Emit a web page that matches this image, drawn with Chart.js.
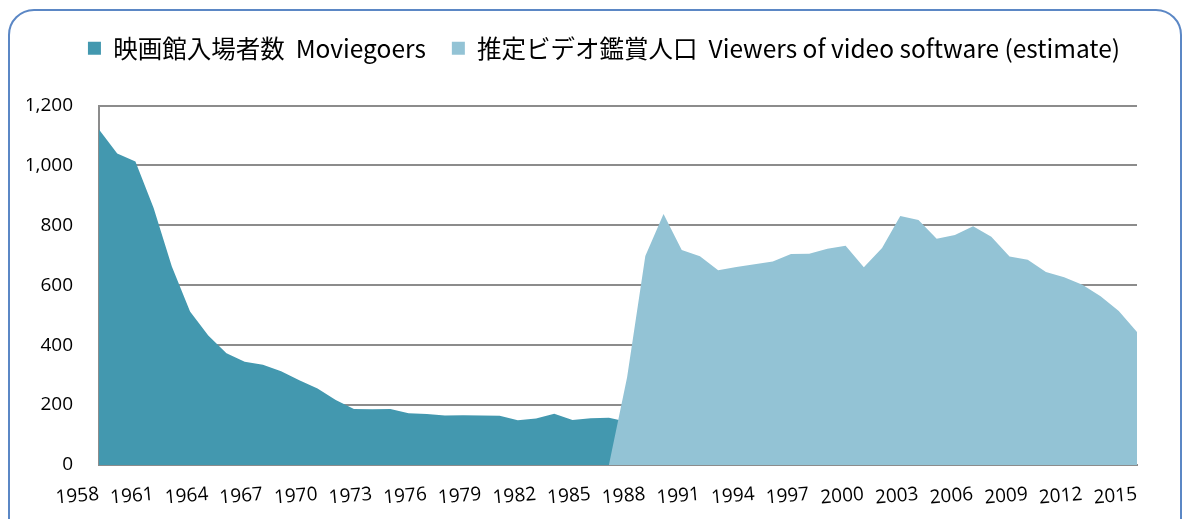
<!DOCTYPE html>
<html>
<head>
<meta charset="utf-8">
<script src="https://cdn.jsdelivr.net/npm/chart.js@4.4.0/dist/chart.umd.min.js"></script>
<style>
  body { margin: 0; background: #fff; }
  #frame { position: absolute; left: 8px; top: 9px; width: 1174px; height: 540px; border: 2px solid #5b87c5; border-radius: 26px; box-sizing: border-box; }
  #wrap { position: absolute; left: 0; top: 0; width: 1189px; height: 519px; }
</style>
</head>
<body>
<div id="frame"></div>
<div id="wrap"><canvas id="chart" width="1189" height="519"></canvas></div>
<script>
// years on the x axis
var years = [1958, 1959, 1960, 1961, 1962, 1963, 1964, 1965, 1966, 1967,
             1968, 1969, 1970, 1971, 1972, 1973, 1974, 1975, 1976, 1977,
             1978, 1979, 1980, 1981, 1982, 1983, 1984, 1985, 1986, 1987,
             1988, 1989, 1990, 1991, 1992, 1993, 1994, 1995, 1996, 1997,
             1998, 1999, 2000, 2001, 2002, 2003, 2004, 2005, 2006, 2007,
             2008, 2009, 2010, 2011, 2012, 2013, 2014, 2015];

// 映画館入場者数 (millions)
var moviegoers = [1120, 1040, 1013, 858, 663, 512, 432, 373, 345, 335,
                  313, 283, 255, 217, 187, 186, 187, 173, 170, 165,
                  166, 165, 164, 149, 155, 171, 150, 156, 158, 144,
                  145, 144, 146, 138, 126, 131, 123, 127, 120, 141,
                  153, 145, 135, 163, 161, 162, 170, 160, 165, 163,
                  160, 169, 174, 144, 155, 156, 161, 167];

// 推定ビデオ鑑賞人口 (millions), starts 1986
var videoViewers = [null, null, null, null, null, null, null, null, null, null,
                    null, null, null, null, null, null, null, null, null, null,
                    null, null, null, null, null, null, null, null, 0, 293,
                    698, 838, 718, 697, 650, 661, 670, 679, 704, 705,
                    722, 732, 660, 724, 831, 818, 755, 768, 797, 762,
                    696, 685, 644, 627, 602, 563, 514, 444];

var seriesNames = ['映画館入場者数  Moviegoers', '推定ビデオ鑑賞人口  Viewers of video software (estimate)'];
var yTicks = [0, 200, 400, 600, 800, 1000, 1200];

var gridGray = '#8c8c8c';

// extra room under the legend, and nudge it right to sit like the original
var legendSpace = {
    id: 'legendSpace',
    beforeInit: function (chart) {
        var fitOrig = chart.legend.fit;
        chart.legend.fit = function () {
            fitOrig.bind(chart.legend)();
            this.height += 35;
        };
    },
    afterLayout: function (chart) {
        chart.legend.left += 22;
        chart.legend.right += 22;
    }
};

var ctx = document.getElementById('chart').getContext('2d');
var chart = new Chart(ctx, {
    type: 'line',
    data: {
        labels: years,
        datasets: [{
            label: seriesNames[0],
            data: moviegoers,
            backgroundColor: '#4398af',
            borderWidth: 0,
            pointRadius: 0,
            fill: 'origin',
            order: 1
        }, {
            label: seriesNames[1],
            data: videoViewers,
            backgroundColor: '#93c3d5',
            borderWidth: 0,
            pointRadius: 0,
            fill: 'origin',
            order: 0
        }]
    },
    options: {
        responsive: false,
        animation: false,
        devicePixelRatio: 1,
        layout: {
            padding: { left: 27, right: 52, top: 10, bottom: 0 }
        },
        plugins: {
            legend: {
                labels: {
                    font: { family: 'Noto Sans CJK JP', size: 24.5 },
                    color: '#000',
                    boxWidth: 13,
                    boxHeight: 13,
                    padding: 26,
                    sort: function (a, b) { return a.datasetIndex - b.datasetIndex; }
                }
            },
            tooltip: { enabled: false }
        },
        scales: {
            x: {
                grid: { display: false },
                border: { color: gridGray, width: 2 },
                ticks: {
                    autoSkip: false,
                    minRotation: 5,
                    maxRotation: 5,
                    padding: 10,
                    color: '#000',
                    font: { family: 'Open Sans', size: 19 },
                    callback: function (v, i) {
                        return i % 3 === 0 ? years[i] : '';
                    }
                },
                afterFit: function (scale) {
                    scale.height = 54;
                }
            },
            y: {
                min: 0,
                max: 1200,
                afterBuildTicks: function (scale) {
                    scale.ticks = yTicks.map(function (v) { return { value: v }; });
                },
                grid: { color: gridGray, lineWidth: 2, drawTicks: false },
                border: { color: gridGray, width: 2 },
                ticks: {
                    padding: 26,
                    color: '#000',
                    font: { family: 'Open Sans', size: 19 },
                    callback: function (v) { return v.toLocaleString('en-US'); }
                },
                afterFit: function (scale) {
                    scale.width = 72;
                }
            }
        }
    },
    plugins: [legendSpace]
});
</script>
</body>
</html>
